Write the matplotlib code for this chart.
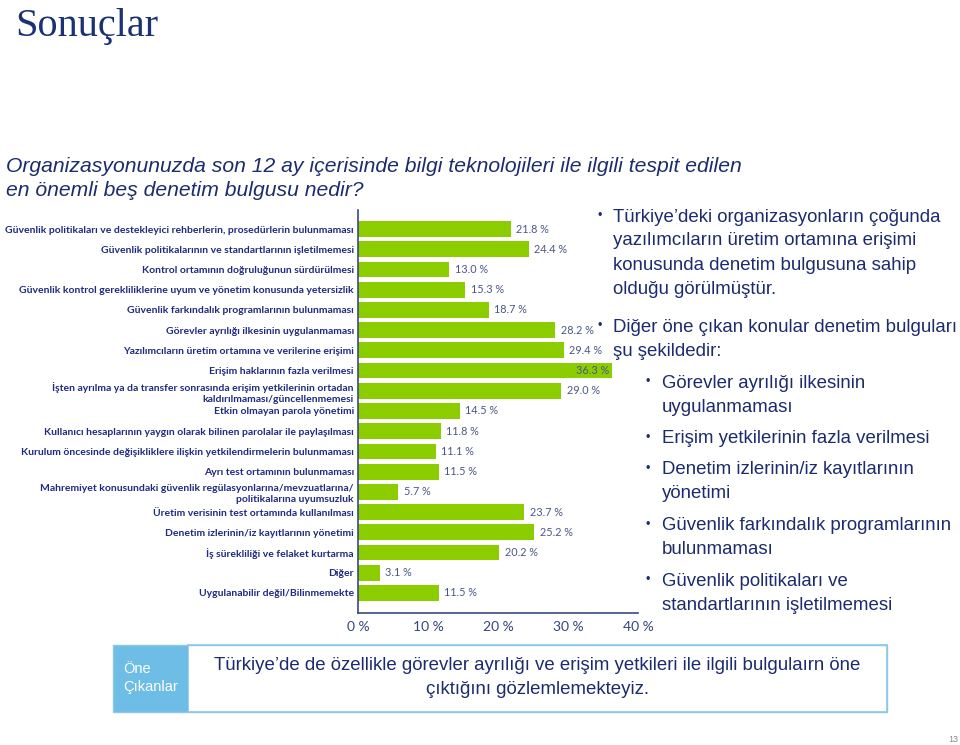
import matplotlib
matplotlib.use("Agg")
import matplotlib.pyplot as plt
from matplotlib.patches import Rectangle

categories = [
    "Güvenlik politikaları ve destekleyici rehberlerin, prosedürlerin bulunmaması",
    "Güvenlik politikalarının ve standartlarının işletilmemesi",
    "Kontrol ortamının doğruluğunun sürdürülmesi",
    "Güvenlik kontrol gerekliliklerine uyum ve yönetim konusunda yetersizlik",
    "Güvenlik farkındalık programlarının bulunmaması",
    "Görevler ayrılığı ilkesinin uygulanmaması",
    "Yazılımcıların üretim ortamına ve verilerine erişimi",
    "Erişim haklarının fazla verilmesi",
    "İşten ayrılma ya da transfer sonrasında erişim yetkilerinin ortadan\nkaldırılmaması/güncellenmemesi",
    "Etkin olmayan parola yönetimi",
    "Kullanıcı hesaplarının yaygın olarak bilinen parolalar ile paylaşılması",
    "Kurulum öncesinde değişikliklere ilişkin yetkilendirmelerin bulunmaması",
    "Ayrı test ortamının bulunmaması",
    "Mahremiyet konusundaki güvenlik regülasyonlarına/mevzuatlarına/\npolitikalarına uyumsuzluk",
    "Üretim verisinin test ortamında kullanılması",
    "Denetim izlerinin/iz kayıtlarının yönetimi",
    "İş sürekliliği ve felaket kurtarma",
    "Diğer",
    "Uygulanabilir değil/Bilinmemekte",
]
values = [21.8, 24.4, 13.0, 15.3, 18.7, 28.2, 29.4, 36.3, 29.0, 14.5,
          11.8, 11.1, 11.5, 5.7, 23.7, 25.2, 20.2, 3.1, 11.5]
xticks = [0, 10, 20, 30, 40]
xtick_labels = ["0 %", "10 %", "20 %", "30 %", "40 %"]

W, H = 960, 745
fig = plt.figure(figsize=(W / 100, H / 100), dpi=100)
fig.patch.set_facecolor("white")

def fx(x):
    return x / W

def fy(y):
    return 1 - y / H

LABEL = "#1f2a80"

# Title
fig.text(fx(15), fy(36), "Sonuçlar", family="Liberation Serif", fontsize=29,
         color="#1b3272", va="baseline", ha="left")

# Subtitle
fig.text(fx(6), fy(167), "Organizasyonunuzda son 12 ay içerisinde bilgi teknolojileri ile ilgili tespit edilen",
         family="Liberation Sans", style="italic", fontsize=15.2, color="#1c2c6c", va="center")
fig.text(fx(6), fy(190), "en önemli beş denetim bulgusu nedir?",
         family="Liberation Sans", style="italic", fontsize=15.2, color="#1c2c6c", va="center")

# Chart
ax = fig.add_axes([fx(358), fy(613), (638 - 358) / W, (613 - 210) / H])
n = len(values)
ypos = list(range(n))
ax.barh(ypos, values, height=0.78, color="#8ccd00", zorder=2)
ax.set_xlim(0, 40)
ax.set_ylim(18.99, -0.94)
ax.set_yticks(ypos)
ax.set_yticklabels(categories, family="Lato", fontweight="bold", fontsize=7.5,
                   color=LABEL, linespacing=1.35)
ax.set_xticks(xticks)
ax.set_xticklabels(xtick_labels, family="Lato", fontsize=10, color="#34447e")
ax.tick_params(axis="both", length=0, pad=3)
ax.tick_params(axis="x", pad=6)
for s in ["top", "right"]:
    ax.spines[s].set_visible(False)
for s in ["left", "bottom"]:
    ax.spines[s].set_color("#3a4a80")
    ax.spines[s].set_linewidth(1.2)

for y, v in zip(ypos, values):
    if v > 33:
        ax.text(v - 0.4, y, f"{v:.1f} %", ha="right", va="center",
                family="Lato", fontsize=7.8, color="#4a5688", zorder=3)
    else:
        ax.text(v + 0.8, y, f"{v:.1f} %", ha="left", va="center",
                family="Lato", fontsize=7.8, color="#4a5688", zorder=3)

# Right-side bullets
RC = "#1c2b6e"
FS = 13.4
def line(x, y, s):
    fig.text(fx(x), fy(y), s, family="Liberation Sans", fontsize=FS, color=RC, va="center", ha="left")

def bullet(x, y):
    fig.text(fx(x), fy(y - 1), "•", family="Liberation Sans", fontsize=9, color=RC, va="center")

bullet(597, 217)
for i, s in enumerate(["Türkiye’deki organizasyonların çoğunda",
                       "yazılımcıların üretim ortamına erişimi",
                       "konusunda denetim bulgusuna sahip",
                       "olduğu görülmüştür."]):
    line(613, 217 + 24 * i, s)

bullet(597, 327)
line(613, 327, "Diğer öne çıkan konular denetim bulguları")
line(613, 351, "şu şekildedir:")

subs = [
    (383, ["Görevler ayrılığı ilkesinin", "uygulanmaması"]),
    (439, ["Erişim yetkilerinin fazla verilmesi"]),
    (470, ["Denetim izlerinin/iz kayıtlarının", "yönetimi"]),
    (526, ["Güvenlik farkındalık programlarının", "bulunmaması"]),
    (581, ["Güvenlik politikaları ve", "standartlarının işletilmemesi"]),
]
for y0, lines in subs:
    bullet(645, y0)
    for i, s in enumerate(lines):
        line(662, y0 + 24 * i, s)

# Bottom box
bx = fig.add_axes([0, 0, 1, 1], zorder=-1)
bx.set_xlim(0, W)
bx.set_ylim(H, 0)
bx.axis("off")
bx.add_patch(Rectangle((188, 645), 699, 67, facecolor="white", edgecolor="#8ec8e8", linewidth=1.2))
bx.add_patch(Rectangle((113, 645), 75, 67, facecolor="#6dbde6", edgecolor="none"))
bx.add_patch(Rectangle((113, 645), 774, 67, facecolor="none", edgecolor="#8ec8e8", linewidth=1.0))
fig.text(fx(123), fy(669), "Öne", family="Liberation Sans", fontsize=10.5, color="white", va="center")
fig.text(fx(123), fy(687), "Çıkanlar", family="Liberation Sans", fontsize=10.5, color="white", va="center")
fig.text(fx(537), fy(665), "Türkiye’de de özellikle görevler ayrılığı ve erişim yetkileri ile ilgili bulgulaırn öne",
         family="Liberation Sans", fontsize=13.4, color=RC, va="center", ha="center")
fig.text(fx(537), fy(689), "çıktığını gözlemlemekteyiz.",
         family="Liberation Sans", fontsize=13.4, color=RC, va="center", ha="center")

# Page number
fig.text(fx(953), fy(740), "13", family="Liberation Sans", fontsize=6.5, color="#8a8a8a",
         va="center", ha="center")

fig.savefig("out.png", dpi=100)
